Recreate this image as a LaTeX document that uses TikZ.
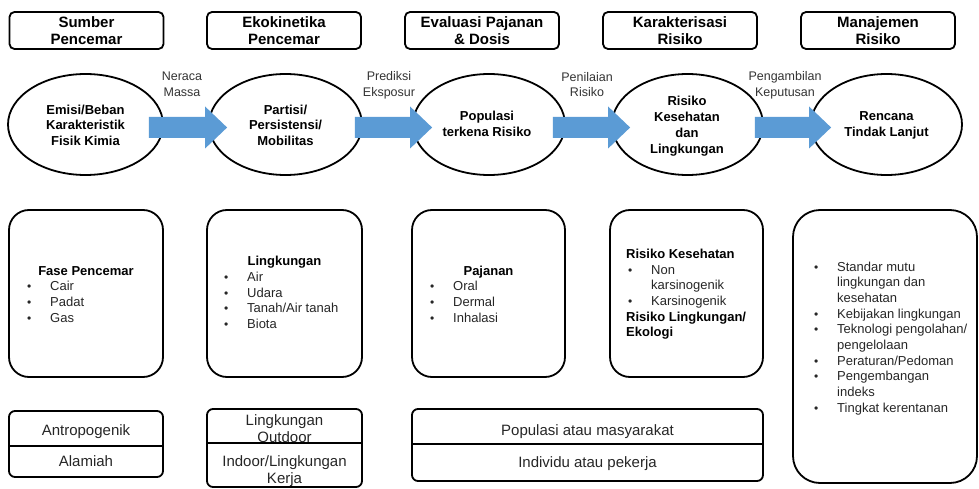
\documentclass[tikz,border=0pt]{standalone}
\usepackage{fontspec}
\setmainfont{Liberation Sans}
\usetikzlibrary{shapes.geometric,calc}

\definecolor{flowblue}{RGB}{91,155,213}

% centred and bulleted multi-line blocks whose base is the first baseline
\newcommand{\stk}[1]{\begin{tabular}[t]{@{}c@{}}#1\end{tabular}}
\newcommand{\lft}[1]{\begin{tabular}[t]{@{}p{23pt}@{}l@{}}#1\end{tabular}}
\newcommand{\bul}{{\fontsize{12}{12}\selectfont •}}
\newcommand{\hd}[1]{\multicolumn{2}{@{}l@{}}{\hspace*{-2pt}\color{black}\bfseries #1}}

% block arrow from a tail point to a tip point
\newcommand{\flowarrow}[2]{%
  \fill[flowblue] ($(#1)+(0,-10.5)$) -- ($(#2)+(-22,-10.5)$) -- ($(#2)+(-22,-21)$)
    -- (#2) -- ($(#2)+(-22,21)$) -- ($(#2)+(-22,10.5)$) -- ($(#1)+(0,10.5)$) -- cycle;}

\tikzset{
  hdrbox/.style={draw, line width=1.8pt, rounded corners=5pt, minimum width=154pt,
    minimum height=37pt, inner sep=0pt},
  ovalnode/.style={ellipse, draw, line width=1.8pt, fill=white, minimum width=153pt,
    minimum height=101pt, inner sep=0pt},
  panel/.style={draw, line width=1.8pt, rounded corners=20pt, inner sep=0pt},
  tagbox/.style={draw, line width=1.8pt, rounded corners=6pt, inner sep=0pt},
  divider/.style={line width=1.8pt},
  hdrtext/.style={anchor=base, inner sep=0pt, font=\fontsize{15}{17.7}\selectfont\bfseries},
  ovaltext/.style={anchor=base, inner sep=0pt, font=\fontsize{13}{15.7}\selectfont\bfseries},
  flowtext/.style={anchor=base, inner sep=0pt, text=black!80, font=\fontsize{12.5}{15.7}\selectfont},
  listtext/.style={anchor=base west, inner sep=0pt, text=black!85, font=\fontsize{13}{15.7}\selectfont},
  paneltitle/.style={anchor=base, inner sep=0pt, font=\fontsize{13}{15.7}\selectfont\bfseries},
  tagtext/.style={anchor=base, inner sep=0pt, text=black!85, font=\fontsize{15}{17.5}\selectfont},
}

\begin{document}
\begin{tikzpicture}[x=1pt, y=-1pt]
\useasboundingbox (0,0) rectangle (979,489);

% stage headers
\node[hdrbox] (h1) at (86.5,30.5) {};
\node[hdrbox] (h2) at (284,30.5) {};
\node[hdrbox] (h3) at (482,30.5) {};
\node[hdrbox] (h4) at (680,30.5) {};
\node[hdrbox] (h5) at (878,30.5) {};
\node[hdrtext] (h1t) at (86.5,27.3) {\stk{Sumber\\Pencemar}};
\node[hdrtext] (h2t) at (284,27.3) {\stk{Ekokinetika\\Pencemar}};
\node[hdrtext] (h3t) at (482,27.3) {\stk{Evaluasi Pajanan\\\& Dosis}};
\node[hdrtext] (h4t) at (680,27.3) {\stk{Karakterisasi\\Risiko}};
\node[hdrtext] (h5t) at (878,27.3) {\stk{Manajemen\\Risiko}};

% process ellipses
\node[ovalnode, minimum width=155pt] (e1) at (85.5,124.5) {};
\node[ovalnode] (e2) at (285.5,124.5) {};
\node[ovalnode, minimum width=152pt] (e3) at (489,124.5) {};
\node[ovalnode, minimum width=151pt] (e4) at (687.5,124.5) {};
\node[ovalnode, minimum width=151pt] (e5) at (886.5,124.5) {};
\node[ovaltext] (e1t) at (85.5,114.3) {\stk{Emisi/Beban\\Karakteristik\\Fisik Kimia}};
\node[ovaltext] (e2t) at (285.5,114.3) {\stk{Partisi/\\Persistensi/\\Mobilitas}};
\node[ovaltext] (e3t) at (487,120.7) {\stk{Populasi\\terkena Risiko}};
\node[ovaltext] (e4t) at (687,106) {\stk{Risiko\\Kesehatan\\dan\\Lingkungan}};
\node[ovaltext] (e5t) at (886.5,120.7) {\stk{Rencana\\Tindak Lanjut}};

% flow arrows between the ellipses
\coordinate (a1s) at ($(e1.east)+(-15,3)$);
\coordinate (a1e) at ($(e2.west)+(19,3)$);
\coordinate (a2s) at ($(e2.east)+(-8,3)$);
\coordinate (a2e) at ($(e3.west)+(20,3)$);
\coordinate (a3s) at ($(e3.east)+(-13,3)$);
\coordinate (a3e) at ($(e4.west)+(19,3)$);
\coordinate (a4s) at ($(e4.east)+(-9,3)$);
\coordinate (a4e) at ($(e5.west)+(21,3)$);
\flowarrow{a1s}{a1e}
\flowarrow{a2s}{a2e}
\flowarrow{a3s}{a3e}
\flowarrow{a4s}{a4e}

\node[flowtext] (f1) at (182,80.7) {\stk{Neraca\\Massa}};
\node[flowtext] (f2) at (389,80.7) {\stk{Prediksi\\Eksposur}};
\node[flowtext] (f3) at (587,81.3) {\stk{Penilaian\\Risiko}};
\node[flowtext] (f4) at (785,81) {\stk{Pengambilan\\Keputusan}};

% detail panels
\node[panel, minimum width=154pt, minimum height=167pt] (p1) at (86,293.5) {};
\node[panel, minimum width=155pt, minimum height=167pt] (p2) at (284.5,293.5) {};
\node[panel, minimum width=153pt, minimum height=167pt] (p3) at (488.5,293.5) {};
\node[panel, minimum width=153pt, minimum height=167pt] (p4) at (686.5,293.5) {};
\node[panel, rounded corners=27pt, minimum width=184pt, minimum height=273pt] (p5) at (885,346.5) {};

\node[paneltitle] (p1t) at (86,275) {Fase Pencemar};
\node[listtext] (p1l) at (27,290.8) {\lft{\bul & Cair\\ \bul & Padat\\ \bul & Gas}};

\node[paneltitle] (p2t) at (284.5,265.7) {Lingkungan};
\node[listtext] (p2l) at (224,281.5) {\lft{\bul & Air\\ \bul & Udara\\ \bul & Tanah/Air tanah\\ \bul & Biota}};

\node[paneltitle] (p3t) at (488.5,275) {Pajanan};
\node[listtext] (p3l) at (430,290.8) {\lft{\bul & Oral\\ \bul & Dermal\\ \bul & Inhalasi}};

\node[listtext] (p4l) at (628,258.3) {\lft{\hd{Risiko Kesehatan}\\ \bul & Non\\ & karsinogenik\\
  \bul & Karsinogenik\\ \hd{Risiko Lingkungan/}\\ \hd{Ekologi}}};

\node[listtext] (p5l) at (814,271) {\lft{\bul & Standar mutu\\ & lingkungan dan\\ & kesehatan\\
  \bul & Kebijakan lingkungan\\ \bul & Teknologi pengolahan/\\ & pengelolaan\\
  \bul & Peraturan/Pedoman\\ \bul & Pengembangan\\ & indeks\\ \bul & Tingkat kerentanan}};

% scope tags: one box split by a divider
\node[tagbox, minimum width=154pt, minimum height=66pt] (s1) at (86,444) {};
\coordinate (s1d) at (9,446);
\draw[divider] (s1d) -- (s1d -| s1.east);
\node[tagtext] (s1at) at (86,435) {Antropogenik};
\node[tagtext] (s1bt) at (86,466.5) {Alamiah};

\node[tagbox, minimum width=155pt, minimum height=78pt] (s2) at (284.5,448) {};
\coordinate (s2d) at (207,443);
\draw[divider] (s2d) -- (s2d -| s2.east);
\node[tagtext] (s2at) at (284.5,425) {\stk{Lingkungan\\Outdoor}};
\node[tagtext] (s2bt) at (284.5,466) {\stk{Indoor/Lingkungan\\Kerja}};

\node[tagbox, minimum width=351pt, minimum height=72pt] (s3) at (587.5,445) {};
\coordinate (s3d) at (412,444);
\draw[divider] (s3d) -- (s3d -| s3.east);
\node[tagtext] (s3at) at (587.5,435) {Populasi atau masyarakat};
\node[tagtext] (s3bt) at (587.5,467) {Individu atau pekerja};
\end{tikzpicture}
\end{document}
